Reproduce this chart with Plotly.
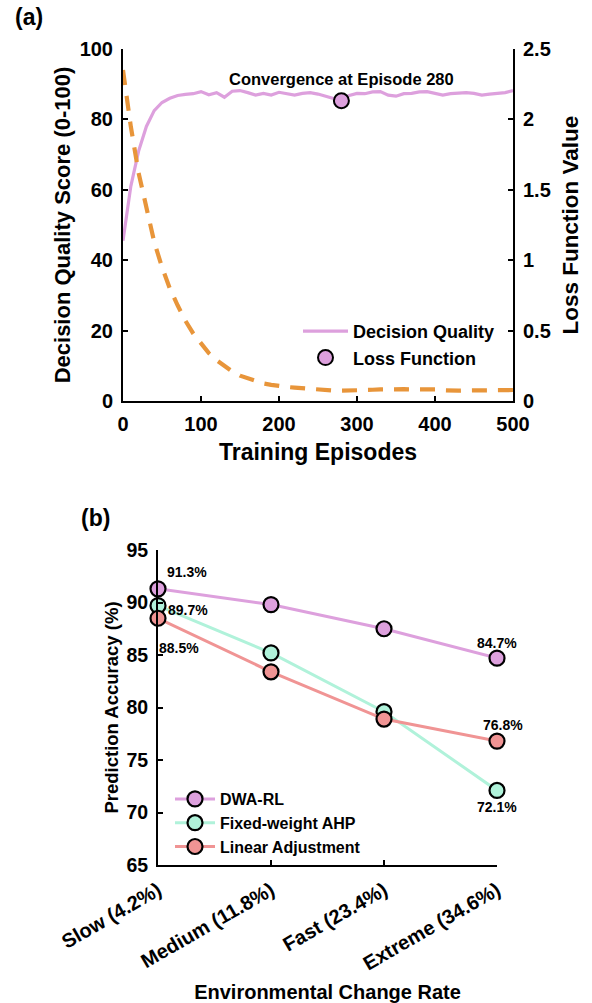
import plotly.graph_objects as go

# ---------------- data: panel (a) ----------------
episodes = [0, 10, 20, 30, 40, 50, 60, 70, 80, 90,
            100, 110, 120, 130, 140, 150, 160, 170, 180, 190,
            200, 210, 220, 230, 240, 250, 260, 270, 280, 290,
            300, 310, 320, 330, 340, 350, 360, 370, 380, 390,
            400, 410, 420, 430, 440, 450, 460, 470, 480, 490, 500]
quality = [45.5, 61.0, 71.0, 78.0, 82.5, 84.8, 86.0, 86.8, 87.1, 87.3,
           87.9, 87.0, 87.6, 86.3, 88.0, 88.2, 87.6, 86.9, 87.4, 86.9,
           87.7, 87.2, 86.9, 87.4, 87.6, 87.2, 86.6, 86.0, 85.3, 86.8,
           87.4, 87.3, 87.8, 87.9, 86.9, 86.6, 87.3, 87.4, 87.8, 87.9,
           87.3, 86.9, 87.3, 87.4, 87.6, 87.4, 86.9, 87.2, 87.4, 87.6, 88.2]
loss = [2.35, 1.95, 1.62, 1.36, 1.13, 0.95, 0.80, 0.68, 0.57, 0.48,
        0.41, 0.34, 0.29, 0.25, 0.21, 0.18, 0.16, 0.14, 0.125, 0.115,
        0.105, 0.10, 0.095, 0.09, 0.085, 0.08, 0.077, 0.074, 0.073, 0.073,
        0.074, 0.078, 0.080, 0.082, 0.084, 0.085, 0.084, 0.082, 0.084, 0.086,
        0.082, 0.076, 0.073, 0.073, 0.075, 0.074, 0.073, 0.073, 0.075, 0.077, 0.078]
conv_episode = [280]
conv_quality = [85.3]
conv_label = "Convergence at Episode 280"

# ---------------- data: panel (b) ----------------
rates = ["Slow (4.2%)", "Medium (11.8%)", "Fast (23.4%)", "Extreme (34.6%)"]
dwa_rl = [91.3, 89.8, 87.5, 84.7]
fixed_ahp = [89.7, 85.2, 79.6, 72.1]
linear_adj = [88.5, 83.4, 78.9, 76.8]
y_ticks_b = [65, 70, 75, 80, 85, 90, 95]

W, H = 592, 1003
FONT = "Liberation Sans, Arial, Helvetica, sans-serif"
PLUM = "#DDA0DD"
ORANGE = "#E8953A"
MINT = "#B0F2DA"
CORAL = "#F09494"


def px_x(p):
    return p / W


def px_y(p):
    return 1 - p / H


def bold(size):
    return dict(family=FONT, size=size, color="black", weight="bold")


fig = go.Figure()

# panel (a)
fig.add_trace(go.Scatter(x=episodes, y=quality, mode="lines", name="Decision Quality",
                         line=dict(color=PLUM, width=3.2), xaxis="x", yaxis="y",
                         legend="legend", cliponaxis=False))
fig.add_trace(go.Scatter(x=conv_episode, y=conv_quality, mode="markers", name="Loss Function",
                         marker=dict(color=PLUM, size=15, line=dict(color="black", width=2)),
                         xaxis="x", yaxis="y", legend="legend", cliponaxis=False))
fig.add_trace(go.Scatter(x=episodes, y=loss, mode="lines", name="Loss",
                         line=dict(color=ORANGE, width=4.2, dash="15px,11px"),
                         xaxis="x", yaxis="y2", showlegend=False, cliponaxis=False))

# panel (b)
for name, vals, col in [("DWA-RL", dwa_rl, PLUM), ("Fixed-weight AHP", fixed_ahp, MINT),
                        ("Linear Adjustment", linear_adj, CORAL)]:
    fig.add_trace(go.Scatter(x=rates, y=vals, mode="lines+markers", name=name,
                             line=dict(color=col, width=3),
                             marker=dict(color=col, size=15, line=dict(color="black", width=2.2)),
                             xaxis="x2", yaxis="y3", legend="legend2", cliponaxis=False))

axis_common = dict(showline=True, linecolor="black", linewidth=2, ticks="inside",
                   ticklen=5, tickwidth=2, tickcolor="black", showgrid=False, zeroline=False,
                   automargin=False)

fig.update_layout(
    template="none",
    width=W, height=H, margin=dict(l=0, r=0, t=0, b=0, autoexpand=False),
    paper_bgcolor="white", plot_bgcolor="white",
    font=dict(family=FONT, color="black"),
    xaxis=dict(domain=[px_x(123), px_x(513)], range=[0, 500], anchor="y",
               tickvals=[0, 100, 200, 300, 400, 500], ticklabelstandoff=4,
               tickfont=bold(20),
               title=dict(text="Training Episodes", standoff=10, font=bold(23)),
               **axis_common),
    yaxis=dict(domain=[px_y(401), px_y(49)], range=[0, 100], anchor="x",
               tickvals=[0, 20, 40, 60, 80, 100], ticklabelstandoff=4,
               tickfont=bold(20),
               title=dict(text="Decision Quality Score (0-100)", standoff=3, font=bold(22)),
               **axis_common),
    yaxis2=dict(domain=[px_y(401), px_y(49)], range=[0, 2.5], anchor="x", overlaying="y",
                side="right", tickvals=[0, 0.5, 1, 1.5, 2, 2.5],
                ticktext=["0", "0.5", "1", "1.5", "2", "2.5"], ticklabelstandoff=4,
                tickfont=bold(20),
                title=dict(text="Loss Function Value", standoff=12, font=bold(22.5)),
                **axis_common),
    xaxis2=dict(domain=[px_x(158), px_x(497)], range=[0, 3], anchor="y3",
                type="category", tickangle=-30, ticklabelstandoff=4,
                tickfont=bold(20),
                title=dict(text="Environmental Change Rate", standoff=12, font=bold(20)),
                **axis_common),
    yaxis3=dict(domain=[px_y(865), px_y(550)], range=[65, 95], anchor="x2",
                tickvals=y_ticks_b, ticklabelstandoff=4,
                tickfont=bold(19.5),
                title=dict(text="Prediction Accuracy (%)", standoff=3, font=bold(18.5)),
                **axis_common),
    legend=dict(x=px_x(298), y=px_y(313), xanchor="left", yanchor="top",
                bgcolor="rgba(0,0,0,0)", itemwidth=45, tracegroupgap=0,
                font=bold(18)),
    legend2=dict(x=px_x(170), y=px_y(782), xanchor="left", yanchor="top",
                 bgcolor="rgba(0,0,0,0)", itemwidth=40,
                 font=bold(16)),
)

annotations = [
    dict(text="(a)", x=px_x(13), y=px_y(17), xref="paper", yref="paper",
         xanchor="left", yanchor="middle", showarrow=False, font=bold(23)),
    dict(text="(b)", x=px_x(79), y=px_y(518), xref="paper", yref="paper",
         xanchor="left", yanchor="middle", showarrow=False, font=bold(23)),
    dict(text=conv_label, x=conv_episode[0], y=conv_quality[0], xref="x", yref="y",
         yshift=22, showarrow=False, xanchor="center", yanchor="middle", font=bold(16.5)),
]

# data labels for first and last points
label_specs = [
    (rates[0], dwa_rl[0], 29, 17), (rates[0], fixed_ahp[0], 30, -4), (rates[0], linear_adj[0], 21, -30),
    (rates[3], dwa_rl[3], 0, 15), (rates[3], linear_adj[3], 6, 16), (rates[3], fixed_ahp[3], 0, -17),
]
for xv, yv, dx, dy in label_specs:
    annotations.append(dict(text=f"{yv:.1f}%", x=xv, y=yv, xref="x2", yref="y3",
                            xshift=dx, yshift=dy, showarrow=False,
                            xanchor="center", yanchor="middle", font=bold(14)))

fig.update_layout(annotations=annotations)

fig.write_html("out.html")
